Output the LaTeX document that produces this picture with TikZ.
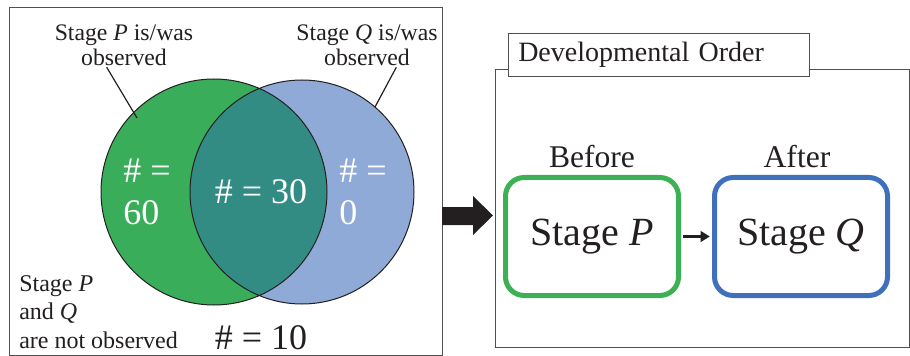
\documentclass[tikz,border=0pt]{standalone}
\usepackage{fontspec}
\setmainfont{Liberation Serif}
\usetikzlibrary{positioning}
\usetikzlibrary{arrows.meta}
\definecolor{ink}{RGB}{35,31,32}
\definecolor{frame}{RGB}{80,80,80}
\definecolor{vennP}{RGB}{57,173,90}
\definecolor{vennQ}{RGB}{143,170,214}
\definecolor{vennPQ}{RGB}{50,140,132}
\definecolor{boxP}{RGB}{60,176,84}
\definecolor{boxQ}{RGB}{62,112,188}

\begin{document}
\begin{tikzpicture}[x=0.75pt,y=-0.75pt,
        every node/.style={inner sep=0pt,text=ink},
        setlabel/.style={align=center,font=\fontsize{17.8}{19}\selectfont},
        count/.style={text=white,font=\fontsize{27}{32}\selectfont},
        stagebox/.style={draw,line width=3.75pt,rounded corners=14pt,minimum width=129.75pt,minimum height=88.5pt,font=\fontsize{30}{34}\selectfont},
        order/.style={font=\fontsize{23.7}{26}\selectfont}]
    \useasboundingbox (0,0) rectangle (910,356);

    % venn panel
    \draw[frame] (9,7) rectangle (442,355);
    \fill[vennP] (214,192) circle (113);
    \fill[vennQ] (302,192) circle (112);
    \begin{scope}
        \clip (214,192) circle (113);
        \fill[vennPQ] (302,192) circle (112);
    \end{scope}
    \draw[ink,line width=0.75pt] (214,192) circle (113) (302,192) circle (112);

    \node[setlabel] (labP) at (124,45) {Stage \textit{P} is/was\\observed};
    \node[setlabel] (labQ) at (367,45) {Stage \textit{Q} is/was\\observed};
    \coordinate (edgeP) at (137,118);
    \coordinate (edgeQ) at (375,107);
    \draw[ink,line width=0.9pt] ([xshift=-13pt,yshift=-1pt]labP.south) -- (edgeP);
    \draw[ink,line width=0.9pt] ([xshift=22pt,yshift=-1pt]labQ.south) -- (edgeQ);

    \node[count,anchor=west,align=left] (onlyP) at (123,192) {\# =\\60};
    \node[count] (both) at (261,192) {\# = 30};
    \node[count,anchor=west,align=left] (onlyQ) at (339,192) {\# =\\0};
    \node[anchor=west,align=left,font=\fontsize{18}{21.5}\selectfont] (neither) at (19,312) {Stage \textit{P}\\and \textit{Q}\\are not observed};
    \node[font=\fontsize{27}{32}\selectfont] (none) at (261,338) {\# = 10};

    % big arrow into the order panel
    \fill[ink] (442,207) -- (473,207) -- (473,196) -- (493,215.5) -- (473,235) -- (473,225) -- (442,225) -- cycle;

    % order panel
    \draw[frame] (495,69) rectangle (909,347);
    \node[draw=frame,fill=white,anchor=west,minimum height=32.25pt,text width=210.75pt,inner xsep=7.5pt,align=left,font=\fontsize{21}{24}\selectfont] (title) at (508,54.5) {Developmental Order};

    \begin{scope}[node distance=156.75pt]
        \node[stagebox,draw=boxP] (stageP) at (592,236.5) {Stage \textit{P}};
        \node[stagebox,draw=boxQ] (stageQ) [right of=stageP] {Stage \textit{Q}};
        \node[order] (before) [above=5pt of stageP] {Before};
        \node[order] (after) [above=5pt of stageQ,xshift=-3pt] {After};
        \draw[ink,line width=1.8pt,-{Triangle[length=7pt,width=8pt]},shorten <=1.5pt,shorten >=1.6pt] (stageP) -- (stageQ);
    \end{scope}
\end{tikzpicture}
\end{document}
